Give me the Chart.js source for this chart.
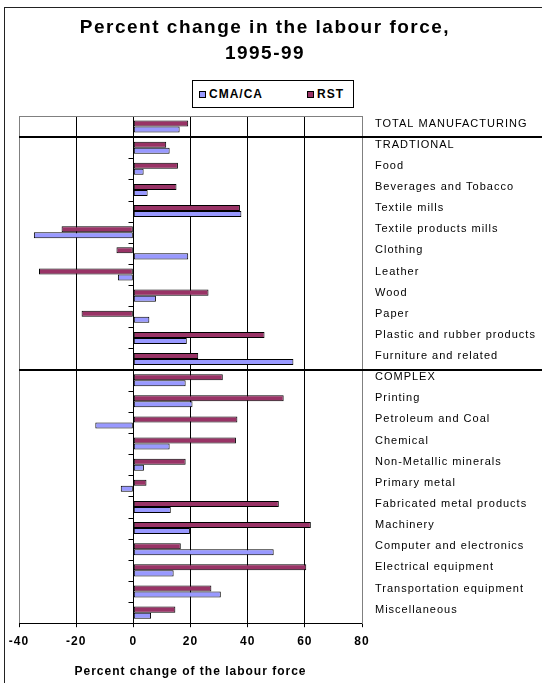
<!DOCTYPE html>
<html>
<head>
<meta charset="utf-8">
<title>Percent change in the labour force, 1995-99</title>
<script src="https://cdn.jsdelivr.net/npm/chart.js@4.4.1/dist/chart.umd.min.js"></script>
<style>
    body { margin: 0; background: #fff; font-family: "Liberation Sans", Arial, sans-serif; }
    #wadah { position: relative; width: 542px; height: 683px; overflow: hidden; }
    #grafikTenaga { display: block; }
    #bingkai { position: absolute; left: 4px; top: 7px; right: -10px; bottom: -10px; border-left: 1px solid #222; border-top: 1px solid #222; pointer-events: none; }
    #judul { position: absolute; left: 0; top: 14px; width: 530px; text-align: center; font-weight: bold; font-size: 19px;
             line-height: 26px; letter-spacing: 1.5px; color: #000; }
    #legenda { position: absolute; left: 192px; top: 80px; width: 162px; height: 28px; box-sizing: border-box; border: 1px solid #000; background: #fff;
               display: flex; align-items: center; justify-content: space-between; padding: 0 9px 0 6px;
               font-weight: bold; font-size: 12px; letter-spacing: 1px; color: #000; }
    .item { display: flex; align-items: center; }
    .kotak { width: 7px; height: 7px; box-sizing: border-box; border: 1px solid #000; margin-right: 3px; }
</style>
</head>
<body>
<div id="wadah">
    <canvas id="grafikTenaga" width="542" height="683"></canvas>
    <div id="judul">Percent change in the labour force,<br>1995-99</div>
    <div id="legenda"></div>
    <div id="bingkai"></div>
</div>
<script>
const kategori = [
    "TOTAL MANUFACTURING", "TRADTIONAL", "Food", "Beverages and Tobacco", "Textile mills",
    "Textile products mills", "Clothing", "Leather", "Wood", "Paper",
    "Plastic and rubber products", "Furniture and related", "COMPLEX", "Printing",
    "Petroleum and Coal", "Chemical", "Non-Metallic minerals", "Primary metal",
    "Fabricated metal products", "Machinery", "Computer and electronics",
    "Electrical equipment", "Transportation equipment", "Miscellaneous"
];
const nilaiCma = [16.2, 12.7, 3.6, 5.0, 37.8, -34.8, 19.2, -5.4, 7.9, 5.6, 18.7, 56.0,
                  18.3, 20.7, -13.3, 12.7, 3.7, -4.4, 13.1, 19.8, 49.1, 14.1, 30.6, 6.2];
const nilaiRst = [19.2, 11.5, 15.6, 15.1, 37.3, -25.1, -5.9, -33.0, 26.3, -18.1, 45.9, 22.7,
                  31.3, 52.6, 36.4, 35.9, 18.3, 4.6, 50.9, 62.1, 16.6, 60.5, 27.3, 14.7];
const labelSumbuX = [-40, -20, 0, 20, 40, 60, 80];
const awalKelompok = [1, 12]; // baris TRADTIONAL dan COMPLEX

const hurufDasar = '"Liberation Sans", Arial, sans-serif';

// garis tambahan ala Excel: tepi atas, tick kecil di sumbu nol, pemisah kelompok
const garisTambahan = {
    id: "garisTambahan",
    beforeLayout(chart) { chart.ctx.letterSpacing = "1px"; },
    beforeDraw(chart) { chart.ctx.letterSpacing = "1px"; },
    afterDraw(chart) {
        const { ctx, chartArea, scales } = chart;
        const sx = scales.x, sy = scales.y;
        const batas = i => (sy.getPixelForValue(i - 1) + sy.getPixelForValue(i)) / 2;

        ctx.save();
        ctx.lineWidth = 1;
        ctx.strokeStyle = "#808080";
        ctx.beginPath();
        ctx.moveTo(chartArea.left, Math.round(chartArea.top) + 0.5);
        ctx.lineTo(chartArea.right, Math.round(chartArea.top) + 0.5);
        ctx.stroke();

        const x0 = Math.round(sx.getPixelForValue(0)) + 0.5;
        ctx.strokeStyle = "#000";
        for (let i = 1; i < kategori.length; i++) {
            const y = Math.round(batas(i)) + 0.5;
            ctx.beginPath();
            ctx.moveTo(x0 - 5, y);
            ctx.lineTo(x0, y);
            ctx.stroke();
        }

        ctx.lineWidth = 2;
        awalKelompok.forEach(i => {
            const y = Math.round(batas(i));
            ctx.beginPath();
            ctx.moveTo(chartArea.left, y);
            ctx.lineTo(chart.width, y);
            ctx.stroke();
        });
        ctx.restore();
    }
};

const grafik = new Chart(document.getElementById("grafikTenaga").getContext("2d"), {
    type: "bar",
    data: {
        labels: kategori,
        datasets: [
            { label: "RST", data: nilaiRst, backgroundColor: "#993366", borderColor: "#000", borderWidth: 1, borderSkipped: false },
            { label: "CMA/CA", data: nilaiCma, backgroundColor: "#9999FF", borderColor: "#000", borderWidth: 1, borderSkipped: false }
        ]
    },
    options: {
        indexAxis: "y",
        responsive: false,
        animation: false,
        layout: { padding: { left: 19, right: 0, top: 116, bottom: 4 } },
        datasets: { bar: { categoryPercentage: 0.57, barPercentage: 1 } },
        plugins: {
            legend: { display: false },
            tooltip: { enabled: false },
            title: { display: false }
        },
        scales: {
            x: {
                min: -40,
                max: 80,
                afterBuildTicks: s => { s.ticks = labelSumbuX.map(v => ({ value: v })); },
                grid: {
                    color: c => (c.tick && (c.tick.value === -40 || c.tick.value === 80)) ? "#808080" : "#000",
                    tickColor: "#000",
                    tickLength: 4,
                    lineWidth: 1
                },
                border: { color: "#000", width: 1 },
                ticks: { color: "#000", font: { family: hurufDasar, size: 12, weight: "bold" }, padding: 7 },
                title: {
                    display: true,
                    text: "Percent change of the labour force",
                    color: "#000",
                    font: { family: hurufDasar, size: 12, weight: "bold" },
                    padding: { top: 9, bottom: 0 }
                }
            },
            y: {
                position: "right",
                grid: { display: false, drawTicks: false },
                border: { color: "#808080", width: 1 },
                afterFit: s => { s.width = 180; },
                ticks: { color: "#000", font: { family: hurufDasar, size: 11 }, padding: 13, labelOffset: -3, autoSkip: false }
            }
        }
    },
    plugins: [garisTambahan]
});

// legenda HTML dengan kotak bergaris, urutan CMA/CA lalu RST
const legenda = document.getElementById("legenda");
grafik.data.datasets.slice().reverse().forEach(ds => {
    const item = document.createElement("span");
    item.className = "item";
    const kotak = document.createElement("span");
    kotak.className = "kotak";
    kotak.style.background = ds.backgroundColor;
    item.appendChild(kotak);
    item.appendChild(document.createTextNode(ds.label));
    legenda.appendChild(item);
});
</script>
</body>
</html>
